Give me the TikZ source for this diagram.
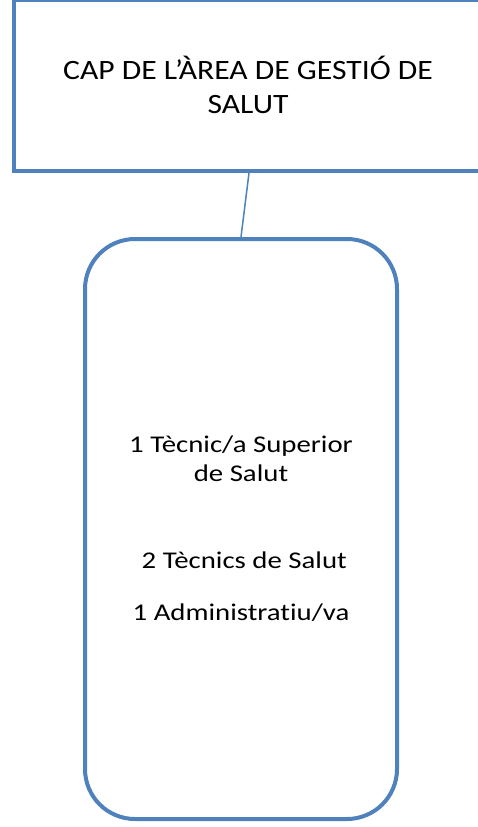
\documentclass[tikz,border=0pt]{standalone}
\usepackage{fontspec}
\setmainfont{Carlito}
\newfontfamily\capfont[FakeStretch=1.13,Ligatures=NoCommon]{Carlito}
\newfontfamily\teamfont[FakeStretch=1.2,Ligatures=NoCommon]{Carlito}
\usetikzlibrary{positioning}

\definecolor{officeblue}{RGB}{79,129,189}

\begin{document}
\begin{tikzpicture}[x=1pt,y=-1pt
  ,line width=4pt
  ,every node/.style={draw=officeblue,align=center}]
  \tikzstyle{cap box}=[minimum width=468pt,minimum height=171.5pt
    ,font=\capfont\fontsize{28}{34}\selectfont]
  \tikzstyle{team box}=[rounded corners=50pt,minimum width=312pt
    ,minimum height=580pt,font=\teamfont\fontsize{24}{29}\selectfont]

  \useasboundingbox (0,0) rectangle (477,827);

  \node[cap box](cap) at (248,85.25) {CAP DE L’ÀREA DE GESTIÓ DE\\SALUT};
  \node[team box](team) at (241,529)
    {1 Tècnic/a Superior\\de Salut\\[58pt]\ 2 Tècnics de Salut\\[23pt]1 Administratiu/va};

  \path [draw=officeblue,line width=1.5pt]
  ([xshift=1pt]cap.south) edge (team.north)
  ;

\end{tikzpicture}
\end{document}
